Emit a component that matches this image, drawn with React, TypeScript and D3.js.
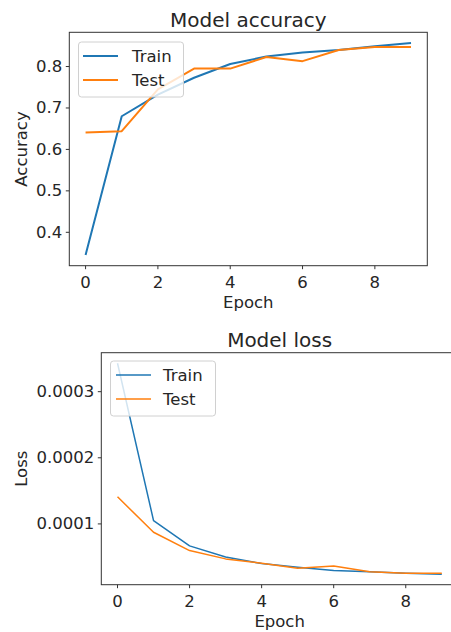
import * as d3 from "d3";

const epochs = [0, 1, 2, 3, 4, 5, 6, 7, 8, 9];
const accTrain = [0.345, 0.68, 0.732, 0.773, 0.806, 0.824, 0.834, 0.84, 0.849, 0.857];
const accTest = [0.641, 0.644, 0.745, 0.795, 0.795, 0.823, 0.813, 0.84, 0.847, 0.847];
const lossTrain = [0.000343, 0.000105, 0.0000668, 0.00005, 0.00004, 0.0000345, 0.0000295, 0.0000275, 0.0000255, 0.000024];
const lossTest = [0.000141, 0.0000874, 0.0000597, 0.0000471, 0.0000405, 0.000033, 0.0000365, 0.0000275, 0.0000255, 0.0000255];
const xTicks = [0, 2, 4, 6, 8];
const accTicks = [0.4, 0.5, 0.6, 0.7, 0.8];
const lossTicks = [0.0001, 0.0002, 0.0003];
const seriesNames = ["Train", "Test"];

const W = 451;
const H = 632;
const FONT = "DejaVu Sans, sans-serif";
const BLUE = "#1f77b4";
const ORANGE = "#ff7f0e";

type PanelProps = {
  box: { left: number; right: number; top: number; bottom: number };
  train: number[];
  test: number[];
  yTicks: number[];
  fmt: (v: number) => string;
  title: string;
  titleY: number;
  yLabel: string;
  yLabelX: number;
  lineW: number;
  legend: { x: number; y: number; w: number; h: number; lx0: number; lx1: number; tx: number; rows: number[] };
  clipId: string;
};

function Panel({ box, train, test, yTicks, fmt, title, titleY, yLabel, yLabelX, lineW, legend, clipId }: PanelProps) {
  const x = d3.scaleLinear().domain([-0.45, 9.45]).range([box.left, box.right]);
  // matplotlib-style 5% autoscale margin around the data
  const all = [...train, ...test];
  const lo = d3.min(all)!;
  const hi = d3.max(all)!;
  const pad = (hi - lo) * 0.05;
  const y = d3.scaleLinear().domain([lo - pad, hi + pad]).range([box.bottom, box.top]);
  const line = d3
    .line<number>()
    .x((_, i) => x(epochs[i]))
    .y((d) => y(d));
  const cx = (box.left + box.right) / 2;
  const cy = (box.top + box.bottom) / 2;

  return (
    <g fontFamily={FONT} fill="#262626">
      <defs>
        <clipPath id={clipId}>
          <rect x={box.left} y={box.top} width={box.right - box.left} height={box.bottom - box.top} />
        </clipPath>
      </defs>
      <text x={cx} y={titleY} textAnchor="middle" fontSize={20}>
        {title}
      </text>
      <g clipPath={`url(#${clipId})`}>
        <path d={line(train) ?? ""} fill="none" stroke={BLUE} strokeWidth={lineW} strokeLinejoin="round" />
        <path d={line(test) ?? ""} fill="none" stroke={ORANGE} strokeWidth={lineW} strokeLinejoin="round" />
      </g>
      <rect
        x={box.left}
        y={box.top}
        width={box.right - box.left}
        height={box.bottom - box.top}
        fill="none"
        stroke="#333"
        strokeWidth={1}
      />
      {xTicks.map((t) => (
        <g key={`x${t}`}>
          <line x1={x(t)} x2={x(t)} y1={box.bottom} y2={box.bottom + 3.5} stroke="#333" />
          <text x={x(t)} y={box.bottom + 22} textAnchor="middle" fontSize={16.5}>
            {t}
          </text>
        </g>
      ))}
      {yTicks.map((t) => (
        <g key={`y${t}`}>
          <line x1={box.left - 3.5} x2={box.left} y1={y(t)} y2={y(t)} stroke="#333" />
          <text x={box.left - 7} y={y(t)} textAnchor="end" dominantBaseline="central" fontSize={16.5}>
            {fmt(t)}
          </text>
        </g>
      ))}
      <text x={cx} y={box.bottom + 42} textAnchor="middle" fontSize={16.5}>
        Epoch
      </text>
      <text
        transform={`translate(${yLabelX},${cy}) rotate(-90)`}
        textAnchor="middle"
        dominantBaseline="central"
        fontSize={16.5}
      >
        {yLabel}
      </text>
      <rect
        x={legend.x}
        y={legend.y}
        width={legend.w}
        height={legend.h}
        rx={3}
        fill="#fff"
        fillOpacity={0.8}
        stroke="#d0d0d0"
        strokeWidth={1}
      />
      {seriesNames.map((name, i) => (
        <g key={name}>
          <line
            x1={legend.lx0}
            x2={legend.lx1}
            y1={legend.rows[i]}
            y2={legend.rows[i]}
            stroke={i === 0 ? BLUE : ORANGE}
            strokeWidth={lineW}
          />
          <text x={legend.tx} y={legend.rows[i]} dominantBaseline="central" fontSize={16.5}>
            {name}
          </text>
        </g>
      ))}
    </g>
  );
}

export default function App() {
  return (
    <svg
      width={W}
      height={H}
      viewBox={`0 0 ${W} ${H}`}
      style={{ position: "absolute", left: 0, top: 0, background: "#fff" }}
    >
      <rect width={W} height={H} fill="#fff" />
      <Panel
        box={{ left: 69.3, right: 427.3, top: 32.3, bottom: 265.7 }}
        train={accTrain}
        test={accTest}
        yTicks={accTicks}
        fmt={(v) => d3.format(".1f")(v)}
        title="Model accuracy"
        titleY={26.5}
        yLabel="Accuracy"
        yLabelX={21}
        lineW={2}
        legend={{ x: 78.5, y: 42, w: 105, h: 55, lx0: 83, lx1: 118, tx: 132, rows: [56, 80] }}
        clipId="clipAcc"
      />
      <Panel
        box={{ left: 101.3, right: 458, top: 352.7, bottom: 584.7 }}
        train={lossTrain}
        test={lossTest}
        yTicks={lossTicks}
        fmt={(v) => d3.format(".4f")(v)}
        title="Model loss"
        titleY={346.5}
        yLabel="Loss"
        yLabelX={21}
        lineW={1.5}
        legend={{ x: 110.5, y: 361, w: 105, h: 55, lx0: 116, lx1: 151, tx: 163, rows: [375, 399] }}
        clipId="clipLoss"
      />
    </svg>
  );
}
